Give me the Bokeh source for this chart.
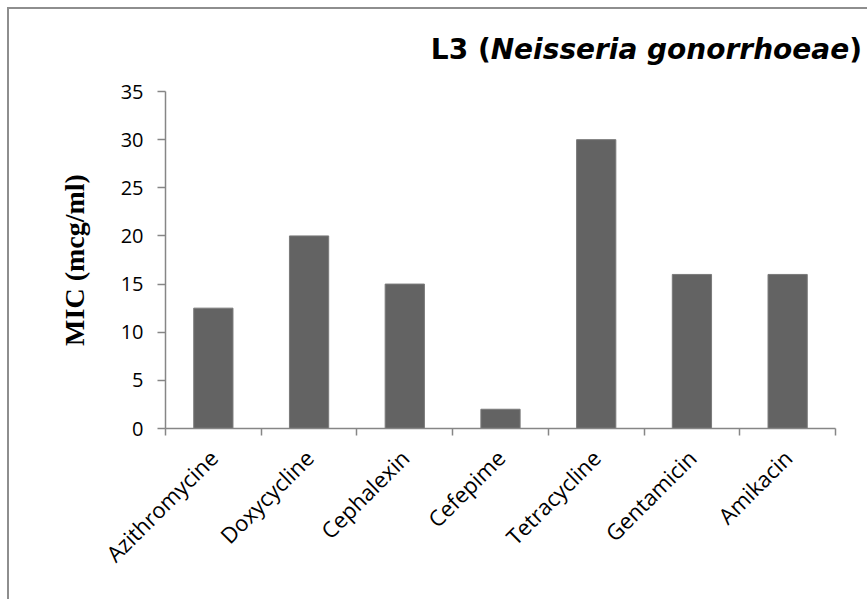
import math
from bokeh.plotting import figure
from bokeh.layouts import column
from bokeh.models import (Range1d, LinearAxis, FixedTicker, Div)
from bokeh.embed import file_html
from bokeh.resources import INLINE

categories = ["Azithromycine", "Doxycycline", "Cephalexin", "Cefepime",
              "Tetracycline", "Gentamicin", "Amikacin"]
mic_values = [12.5, 20, 15, 2, 30, 16, 16]
y_ticks = [0, 5, 10, 15, 20, 25, 30, 35]
title_plain = "L3 ("
title_italic = "Neisseria gonorrhoeae"
title_close = ")"
y_label = "MIC (mcg/ml)"

n = len(categories)
centers = [i + 0.5 for i in range(n)]
bounds = list(range(n + 1))

W = 858
TITLE_H = 60
H = 520
AXIS = "#868686"
TICK_FONT = "Open Sans"

title_div = Div(
    text=f"{title_plain}<i>{title_italic}</i>{title_close}",
    width=W, height=TITLE_H,
    styles={"font-family": "'DejaVu Sans'", "font-size": "28px",
            "font-weight": "bold", "color": "#000000",
            "text-align": "right", "padding-right": "10px",
            "padding-top": "20px", "box-sizing": "border-box",
            "line-height": "1.15", "background": "white"})

p = figure(width=W, height=H,
           x_range=Range1d(0, n),
           y_range=Range1d(0, 35),
           output_backend="svg", toolbar_location=None,
           x_axis_location=None, y_axis_location="left",
           min_border_left=156, min_border_right=32,
           min_border_top=12, min_border_bottom=171)
p.outline_line_color = None
p.xgrid.visible = False
p.ygrid.visible = False
p.background_fill_color = "white"
p.border_fill_color = "white"

# y axis
ya = p.yaxis[0]
ya.ticker = FixedTicker(ticks=y_ticks)
ya.major_tick_out = 8
ya.major_tick_in = 0
ya.minor_tick_out = 0
ya.minor_tick_in = 0
ya.axis_line_color = AXIS
ya.axis_line_width = 1.5
ya.major_tick_line_color = AXIS
ya.major_tick_line_width = 1.5
ya.major_label_text_font = TICK_FONT
ya.major_label_text_font_size = "20px"
ya.major_label_text_color = "#000000"
ya.major_label_standoff = 14
ya.axis_label = y_label
ya.axis_label_text_font = "Liberation Serif"
ya.axis_label_text_font_style = "bold"
ya.axis_label_text_font_size = "28px"
ya.axis_label_text_color = "#000000"
ya.axis_label_standoff = 28

# boundary ticks axis (between categories)
ta = LinearAxis(ticker=FixedTicker(ticks=bounds))
ta.major_label_overrides = {b: "" for b in bounds}
ta.major_tick_out = 7
ta.major_tick_in = 0
ta.minor_tick_out = 0
ta.minor_tick_in = 0
ta.axis_line_color = AXIS
ta.axis_line_width = 1.5
ta.major_tick_line_color = AXIS
ta.major_tick_line_width = 1.5
ta.major_label_text_font_size = "10px"
ta.major_label_standoff = 0
p.add_layout(ta, "below")

# category label axis
ca = LinearAxis(ticker=FixedTicker(ticks=centers))
ca.major_label_overrides = {c: name for c, name in zip(centers, categories)}
ca.axis_line_color = None
ca.major_tick_line_color = None
ca.major_tick_out = 0
ca.major_tick_in = 0
ca.minor_tick_out = 0
ca.minor_tick_in = 0
ca.major_label_orientation = math.pi / 4
ca.major_label_text_font = TICK_FONT
ca.major_label_text_font_size = "22px"
ca.major_label_text_color = "#000000"
ca.major_label_standoff = 18
p.add_layout(ca, "below")

p.vbar(x=centers, top=mic_values, width=0.41,
       fill_color="#636363", line_color="#7a7a7a", line_width=1)

layout = column(title_div, p, spacing=0)
layout.styles = {"margin-left": "7px", "margin-top": "7px",
                 "border-left": "2px solid #8e8e8e",
                 "border-top": "2px solid #8e8e8e",
                 "background": "white"}

open("out.html", "w").write(file_html(layout, INLINE))
